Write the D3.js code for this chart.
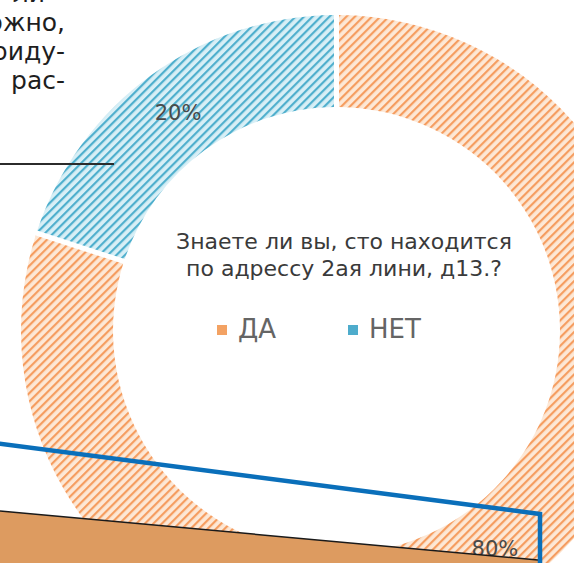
<!DOCTYPE html>
<html>
<head>
<meta charset="utf-8">
<script src="https://cdn.jsdelivr.net/npm/d3@7"></script>
<style>
  body { margin: 0; background: #fff; }
  svg { display: block; }
</style>
</head>
<body>
<svg id="chart"></svg>
<script>
// chart data
const categories = ["ДА", "НЕТ"];
const values = [80, 20];
const valueLabels = ["80%", "20%"];
const titleLines = ["Знаете ли вы, сто находится", "по адрессу 2ая лини, д13.?"];
const sideText = ["ли", "ожно,", "риду-", "рас-"];

const W = 574, H = 563;
const cx = 336.5, cy = 330.5, outerR = 315.5, innerR = 223.5;

var svg = d3.select("#chart")
    .attr("width", W)
    .attr("height", H);

// hatch patterns (Excel style upward diagonal)
var defs = svg.append("defs");
function hatch(id, bg, fg) {
  var p = defs.append("pattern")
      .attr("id", id)
      .attr("patternUnits", "userSpaceOnUse")
      .attr("width", 6).attr("height", 6)
      .attr("patternTransform", "rotate(45)");
  p.append("rect").attr("width", 6).attr("height", 6).attr("fill", bg);
  p.append("rect").attr("width", 2.2).attr("height", 6).attr("fill", fg);
}
hatch("hatch-orange", "#fde8d6", "#f59d60");
hatch("hatch-blue", "#d8eff6", "#4fafcd");

var color = d3.scaleOrdinal(categories, ["url(#hatch-orange)", "url(#hatch-blue)"]);
var legendColor = d3.scaleOrdinal(categories, ["#f3a263", "#4eaccc"]);

var pie = d3.pie().sort(null).value(function(d) { return d; });
var arc = d3.arc().innerRadius(innerR).outerRadius(outerR).padAngle(0.013);
var labelArc = d3.arc().innerRadius(innerR).outerRadius(outerR);

var g = svg.append("g").attr("transform", "translate(" + cx + "," + cy + ")");

var arcs = pie(values);
g.selectAll("path.slice")
  .data(arcs)
  .enter()
  .append("path")
    .attr("class", "slice")
    .attr("d", arc)
    .attr("fill", function(d, i) { return color(categories[i]); });

g.selectAll("text.pct")
  .data(arcs)
  .enter()
  .append("text")
    .attr("class", "pct")
    .attr("transform", function(d) { return "translate(" + labelArc.centroid(d) + ")"; })
    .attr("text-anchor", "middle")
    .attr("dy", "0.35em")
    .style("font-family", "'DejaVu Sans', sans-serif")
    .style("font-size", "21px")
    .style("fill", "#4a4a4a")
    .text(function(d, i) { return valueLabels[i]; });

// title in the hole
svg.selectAll("text.title")
  .data(titleLines)
  .enter()
  .append("text")
    .attr("class", "title")
    .attr("x", 344)
    .attr("y", function(d, i) { return 249 + i * 26.5; })
    .attr("text-anchor", "middle")
    .style("font-family", "'DejaVu Sans', sans-serif")
    .style("font-size", "22px")
    .style("fill", "#3a3a3a")
    .text(function(d) { return d; });

// legend
var legendX = d3.scalePoint().domain(categories).range([217, 348]);
var lg = svg.selectAll("g.legend")
  .data(categories)
  .enter()
  .append("g")
    .attr("class", "legend")
    .attr("transform", function(d) { return "translate(" + legendX(d) + ",338)"; });
lg.append("rect")
    .attr("x", 0).attr("y", -13)
    .attr("width", 10).attr("height", 10)
    .attr("fill", function(d) { return legendColor(d); });
lg.append("text")
    .attr("x", 21)
    .style("font-family", "'DejaVu Sans', sans-serif")
    .style("font-size", "26px")
    .style("fill", "#656565")
    .text(function(d) { return d; });

// page text fragments at the top left
svg.selectAll("text.side")
  .data(sideText)
  .enter()
  .append("text")
    .attr("class", "side")
    .attr("x", function(d, i) { return i == 0 ? 45 : 65; })
    .attr("y", function(d, i) { return 2 + i * 29; })
    .attr("text-anchor", "end")
    .style("font-family", "'DejaVu Sans', sans-serif")
    .style("font-size", "25px")
    .style("fill", "#1e1e1e")
    .text(function(d) { return d; });

svg.append("line")
    .attr("x1", 0).attr("y1", 164)
    .attr("x2", 114).attr("y2", 164)
    .attr("stroke", "#2b2b2b")
    .attr("stroke-width", 2);

// brown block at the bottom
svg.append("path")
    .attr("d", "M0,511 L538,560 L538,563 L0,563 Z")
    .attr("fill", "#dd9b60");
svg.append("line")
    .attr("x1", 0).attr("y1", 511)
    .attr("x2", 538).attr("y2", 560)
    .attr("stroke", "#1a1a1a")
    .attr("stroke-width", 1.5);

// blue frame
svg.append("path")
    .attr("d", "M-5,443 L540,514 L540,570")
    .attr("fill", "none")
    .attr("stroke", "#0a6fba")
    .attr("stroke-width", 4.5);
</script>
</body>
</html>
